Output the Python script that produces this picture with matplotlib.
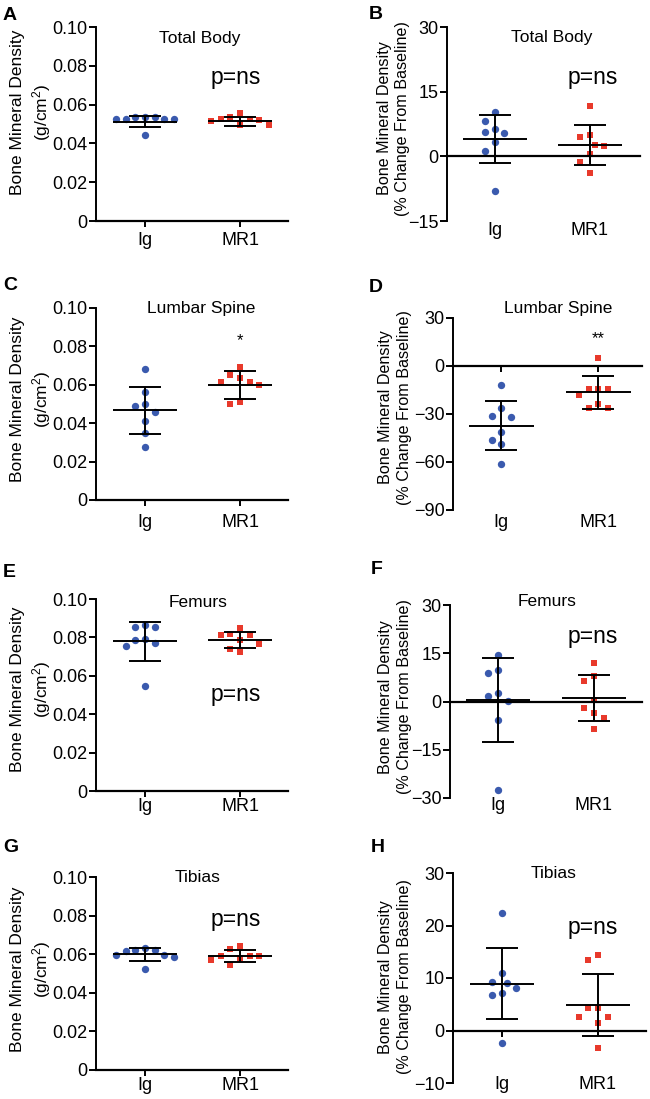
import numpy as np
import matplotlib
matplotlib.use('Agg')
import matplotlib.pyplot as plt

plt.rcParams['font.family'] = ['Liberation Sans', 'DejaVu Sans']
plt.rcParams['mathtext.fontset'] = 'custom'
plt.rcParams['mathtext.rm'] = 'Liberation Sans'
plt.rcParams['mathtext.default'] = 'regular'

# ---------------- data ----------------
groups = ['Ig', 'MR1']

A_ig = [0.0534, 0.0528, 0.0528, 0.0443, 0.0528, 0.0528, 0.0534, 0.0537]
A_mr1 = [0.0528, 0.0516, 0.0495, 0.0559, 0.0535, 0.0495, 0.0520, 0.0528]
A_mean = [0.0512, 0.0513]
A_sd = [0.0030, 0.0024]

B_ig = [10.2, 8.3, 6.4, 5.3, 5.6, 3.3, 1.2, -8.0]
B_mr1 = [11.7, 4.5, 4.9, 2.4, 2.7, 0.5, -1.3, -3.8]
B_mean = [3.95, 2.7]
B_sd = [5.6, 4.6]

C_ig = [0.0683, 0.0565, 0.0501, 0.0487, 0.0457, 0.0414, 0.0348, 0.0278]
C_mr1 = [0.0692, 0.0650, 0.0635, 0.0612, 0.0617, 0.0600, 0.0508, 0.0499]
C_mean = [0.0467, 0.0600]
C_sd = [0.0124, 0.0072]

D_ig = [-11.6, -26.0, -31.2, -31.6, -41.2, -46.0, -48.5, -61.0]
D_mr1 = [5.2, -14.1, -14.6, -14.6, -18.3, -23.5, -26.2, -26.0]
D_mean = [-37.2, -16.5]
D_sd = [15.4, 10.1]

E_ig = [0.0866, 0.0854, 0.0854, 0.0794, 0.0787, 0.0770, 0.0753, 0.0547]
E_mr1 = [0.0847, 0.0812, 0.0819, 0.0810, 0.0787, 0.0767, 0.0739, 0.0725]
E_mean = [0.0779, 0.0787]
E_sd = [0.0103, 0.0041]

F_ig = [14.5, 9.8, 9.0, 2.5, 1.8, 0.2, -5.8, -27.6]
F_mr1 = [12.1, 7.9, 6.5, 0.5, -1.9, -3.6, -5.2, -8.5]
F_mean = [0.5, 0.95]
F_sd = [13.0, 7.15]

G_ig = [0.0623, 0.0618, 0.0597, 0.0588, 0.0597, 0.0620, 0.0631, 0.0522]
G_mr1 = [0.0592, 0.0580, 0.0640, 0.0626, 0.0542, 0.0571, 0.0592, 0.0592]
G_mean = [0.0600, 0.0590]
G_sd = [0.0034, 0.0030]

H_ig = [22.3, 11.0, 9.0, 9.3, 8.1, 7.1, 6.8, -2.3]
H_mr1 = [14.4, 13.4, 4.2, 4.2, 2.6, 2.6, 1.4, -3.3]
H_mean = [8.95, 4.85]
H_sd = [6.75, 5.95]

abs_ticks = [0, 0.02, 0.04, 0.06, 0.08, 0.10]
abs_ticklabels = ['0', '0.02', '0.04', '0.06', '0.08', '0.10']
B_ticks = [-15, 0, 15, 30]
D_ticks = [-90, -60, -30, 0, 30]
F_ticks = [-30, -15, 0, 15, 30]
H_ticks = [-10, 0, 10, 20, 30]

titles = ['Total Body', 'Total Body', 'Lumbar Spine', 'Lumbar Spine',
          'Femurs', 'Femurs', 'Tibias', 'Tibias']
letters = ['A', 'B', 'C', 'D', 'E', 'F', 'G', 'H']
abs_label = 'Bone Mineral Density\n(g/cm$^{2}$)'
pct_label = 'Bone Mineral Density\n(% Change From Baseline)'

# annotation text and value positions (value coords)
notes = [('p=ns', 1.95, 0.0742, 16.5), ('p=ns', 2.03, 18.3, 16.5),
         ('*', 2.0, 0.083, 12), ('**', 2.0, 17.0, 12),
         ('p=ns', 1.95, 0.050, 16.5), ('p=ns', 1.99, 20.2, 16.5),
         ('p=ns', 1.95, 0.0779, 16.5), ('p=ns', 1.95, 19.7, 16.5)]

panels = [
    dict(ig=A_ig, mr=A_mr1, mean=A_mean, sd=A_sd, ticks=abs_ticks, tl=abs_ticklabels, ylim=(0, 0.10), ylabel=abs_label),
    dict(ig=B_ig, mr=B_mr1, mean=B_mean, sd=B_sd, ticks=B_ticks, tl=None, ylim=(-15, 30), ylabel=pct_label),
    dict(ig=C_ig, mr=C_mr1, mean=C_mean, sd=C_sd, ticks=abs_ticks, tl=abs_ticklabels, ylim=(0, 0.10), ylabel=abs_label),
    dict(ig=D_ig, mr=D_mr1, mean=D_mean, sd=D_sd, ticks=D_ticks, tl=None, ylim=(-90, 30), ylabel=pct_label),
    dict(ig=E_ig, mr=E_mr1, mean=E_mean, sd=E_sd, ticks=abs_ticks, tl=abs_ticklabels, ylim=(0, 0.10), ylabel=abs_label),
    dict(ig=F_ig, mr=F_mr1, mean=F_mean, sd=F_sd, ticks=F_ticks, tl=None, ylim=(-30, 30), ylabel=pct_label),
    dict(ig=G_ig, mr=G_mr1, mean=G_mean, sd=G_sd, ticks=abs_ticks, tl=abs_ticklabels, ylim=(0, 0.10), ylabel=abs_label),
    dict(ig=H_ig, mr=H_mr1, mean=H_mean, sd=H_sd, ticks=H_ticks, tl=None, ylim=(-10, 30), ylabel=pct_label),
]

# ---------------- layout (pixels) ----------------
W, Hh = 650, 1099
rects = [(96, 27, 288, 221), (447, 27, 640, 221),
         (96, 308, 288, 500), (453, 318, 642, 510),
         (96, 599, 288, 791), (450, 605, 642, 798),
         (96, 877, 288, 1070), (453, 873, 646, 1083)]
xlims = [(0.484, 2.505), (0.495, 2.53), (0.484, 2.505), (0.505, 2.45),
         (0.484, 2.505), (0.50, 2.50), (0.484, 2.505), (0.49, 2.50)]
title_pos = [(0.54, 0.943), (0.544, 0.948), (0.55, 0.995), (0.556, 1.05),
             (0.53, 0.98), (0.505, 1.02), (0.53, 1.0), (0.52, 1.0)]
ylabel_pos = [(-0.225, 0.56), (-0.19, 0.53), (-0.225, 0.526), (-0.217, 0.536),
              (-0.225, 0.53), (-0.198, 0.523), (-0.225, 0.523), (-0.212, 0.505)]
ylabel_fs = [12.5, 11.6, 12.5, 11.6, 12.5, 11.6, 12.5, 11.6]
xlabel_pad = [8, 1, 10, 3, 5, -1, 5, -5]
letter_pos = [(3, 7), (369, 6), (3, 277), (369, 279), (3, 564), (371, 561), (3, 839), (371, 839)]

BLUE = '#3a5aae'
RED = '#e8392b'
LW = 1.4

fig = plt.figure(figsize=(W / 100, Hh / 100), dpi=100)


def swarm(ax, xc, ys, step_px, dx_px, dy_px):
    ys = np.asarray(ys, float)
    pts = ax.transData.transform(np.column_stack([np.full(len(ys), xc), ys]))
    ypx = pts[:, 1]
    order = np.argsort(-ypx)
    cands = [0.0]
    for k in range(1, 16):
        cands += [-k * step_px, k * step_px]
    placed = []
    offs = np.zeros(len(ys))
    for i in order:
        chosen = cands[-1]
        for c in cands:
            if all(((c - px) / dx_px) ** 2 + ((ypx[i] - py) / dy_px) ** 2 >= 0.98
                   for px, py in placed):
                chosen = c
                break
        offs[i] = chosen
        placed.append((chosen, ypx[i]))
    unit = ax.transData.transform((1, 0))[0] - ax.transData.transform((0, 0))[0]
    return xc + offs / unit


for i, p in enumerate(panels):
    x0, y0, x1, y1 = rects[i]
    ax = fig.add_axes([x0 / W, (Hh - y1) / Hh, (x1 - x0) / W, (y1 - y0) / Hh])
    ax.set_xlim(*xlims[i])
    ax.set_ylim(*p['ylim'])
    for s in ['top', 'right']:
        ax.spines[s].set_visible(False)
    ax.spines['left'].set_linewidth(LW)
    ax.spines['bottom'].set_linewidth(LW + 0.2)
    ax.spines['bottom'].set_position(('data', 0))
    ax.set_yticks(p['ticks'])
    if p['tl'] is not None:
        ax.set_yticklabels(p['tl'])
    ax.tick_params(axis='y', direction='out', length=5, width=LW, labelsize=13, pad=1)
    ax.set_xticks([1, 2])
    ax.tick_params(axis='x', direction='out', length=4, width=LW, labelbottom=False)
    sec = ax.secondary_xaxis(0.0)
    sec.set_xticks([1, 2], labels=groups)
    sec.tick_params(length=0, labelsize=13, pad=xlabel_pad[i])
    sec.spines['bottom'].set_visible(False)

    xs_ig = swarm(ax, 1, p['ig'], 4.8, 9.5, 11.0)
    xs_mr = swarm(ax, 2, p['mr'], 4.8, 9.5, 11.0)
    ax.scatter(xs_ig, p['ig'], s=28, marker='o', color=BLUE, zorder=2, linewidths=0)
    ax.scatter(xs_mr, p['mr'], s=24, marker='s', color=RED, zorder=2, linewidths=0)

    xpos = np.array([1, 2])
    ax.hlines(p['mean'], xpos - 0.335, xpos + 0.335, color='black', lw=LW, zorder=3)
    ax.errorbar(xpos, p['mean'], yerr=p['sd'], fmt='none', ecolor='black',
                elinewidth=LW, capsize=11.5, capthick=LW, zorder=3)

    ax.set_ylabel(p['ylabel'], fontsize=ylabel_fs[i], linespacing=1.3)
    ax.yaxis.set_label_coords(*ylabel_pos[i])

    ax.text(title_pos[i][0], title_pos[i][1], titles[i], transform=ax.transAxes,
            ha='center', va='center', fontsize=12.5)
    txt, nx, ny, fs = notes[i]
    ax.text(nx, ny, txt, ha='center', va='center', fontsize=fs)

    lx, ly = letter_pos[i]
    fig.text(lx / W, 1 - ly / Hh, letters[i], fontsize=14, fontweight='bold',
             ha='left', va='top')

fig.savefig('out.png', dpi=100)
